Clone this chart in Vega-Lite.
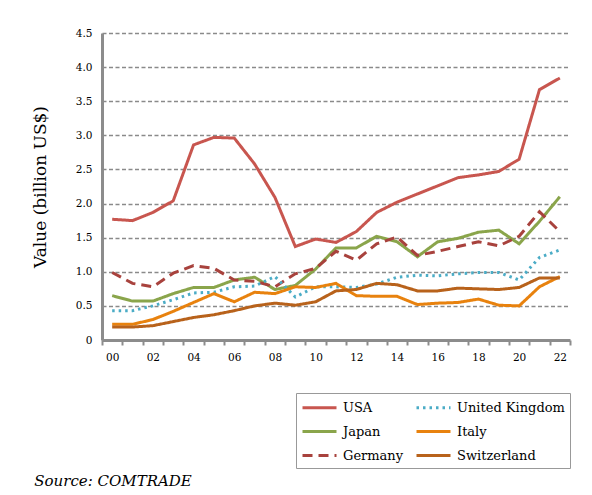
{
  "$schema": "https://vega.github.io/schema/vega-lite/v6.json",
  "width": 468,
  "height": 307,
  "autosize": {"type": "none"},
  "padding": {"left": 102, "top": 33, "right": 22, "bottom": 155},
  "background": "white",
  "title": {
    "text": "Source: COMTRADE",
    "orient": "bottom",
    "anchor": "start",
    "font": "DejaVu Serif",
    "fontStyle": "italic",
    "fontWeight": "normal",
    "fontSize": 15,
    "color": "black",
    "dx": 3,
    "offset": 5
  },
  "config": {
    "view": {"stroke": null},
    "font": "DejaVu Serif"
  },
  "datasets": {
    "trade": [
      {"year": "00", "country": "USA", "value": 1.77},
      {"year": "01", "country": "USA", "value": 1.75},
      {"year": "02", "country": "USA", "value": 1.87},
      {"year": "03", "country": "USA", "value": 2.04},
      {"year": "04", "country": "USA", "value": 2.86},
      {"year": "05", "country": "USA", "value": 2.97},
      {"year": "06", "country": "USA", "value": 2.96},
      {"year": "07", "country": "USA", "value": 2.58},
      {"year": "08", "country": "USA", "value": 2.09},
      {"year": "09", "country": "USA", "value": 1.37},
      {"year": "10", "country": "USA", "value": 1.48},
      {"year": "11", "country": "USA", "value": 1.43},
      {"year": "12", "country": "USA", "value": 1.59},
      {"year": "13", "country": "USA", "value": 1.87},
      {"year": "14", "country": "USA", "value": 2.02},
      {"year": "15", "country": "USA", "value": 2.14},
      {"year": "16", "country": "USA", "value": 2.26},
      {"year": "17", "country": "USA", "value": 2.38},
      {"year": "18", "country": "USA", "value": 2.42},
      {"year": "19", "country": "USA", "value": 2.47},
      {"year": "20", "country": "USA", "value": 2.65},
      {"year": "21", "country": "USA", "value": 3.67},
      {"year": "22", "country": "USA", "value": 3.84},

      {"year": "00", "country": "Japan", "value": 0.65},
      {"year": "01", "country": "Japan", "value": 0.57},
      {"year": "02", "country": "Japan", "value": 0.57},
      {"year": "03", "country": "Japan", "value": 0.68},
      {"year": "04", "country": "Japan", "value": 0.77},
      {"year": "05", "country": "Japan", "value": 0.77},
      {"year": "06", "country": "Japan", "value": 0.88},
      {"year": "07", "country": "Japan", "value": 0.92},
      {"year": "08", "country": "Japan", "value": 0.74},
      {"year": "09", "country": "Japan", "value": 0.80},
      {"year": "10", "country": "Japan", "value": 1.04},
      {"year": "11", "country": "Japan", "value": 1.35},
      {"year": "12", "country": "Japan", "value": 1.35},
      {"year": "13", "country": "Japan", "value": 1.52},
      {"year": "14", "country": "Japan", "value": 1.44},
      {"year": "15", "country": "Japan", "value": 1.22},
      {"year": "16", "country": "Japan", "value": 1.44},
      {"year": "17", "country": "Japan", "value": 1.49},
      {"year": "18", "country": "Japan", "value": 1.58},
      {"year": "19", "country": "Japan", "value": 1.61},
      {"year": "20", "country": "Japan", "value": 1.41},
      {"year": "21", "country": "Japan", "value": 1.74},
      {"year": "22", "country": "Japan", "value": 2.10},

      {"year": "00", "country": "Germany", "value": 0.99},
      {"year": "01", "country": "Germany", "value": 0.83},
      {"year": "02", "country": "Germany", "value": 0.78},
      {"year": "03", "country": "Germany", "value": 0.98},
      {"year": "04", "country": "Germany", "value": 1.09},
      {"year": "05", "country": "Germany", "value": 1.05},
      {"year": "06", "country": "Germany", "value": 0.88},
      {"year": "07", "country": "Germany", "value": 0.86},
      {"year": "08", "country": "Germany", "value": 0.78},
      {"year": "09", "country": "Germany", "value": 0.97},
      {"year": "10", "country": "Germany", "value": 1.05},
      {"year": "11", "country": "Germany", "value": 1.30},
      {"year": "12", "country": "Germany", "value": 1.17},
      {"year": "13", "country": "Germany", "value": 1.41},
      {"year": "14", "country": "Germany", "value": 1.51},
      {"year": "15", "country": "Germany", "value": 1.24},
      {"year": "16", "country": "Germany", "value": 1.30},
      {"year": "17", "country": "Germany", "value": 1.37},
      {"year": "18", "country": "Germany", "value": 1.44},
      {"year": "19", "country": "Germany", "value": 1.38},
      {"year": "20", "country": "Germany", "value": 1.52},
      {"year": "21", "country": "Germany", "value": 1.88},
      {"year": "22", "country": "Germany", "value": 1.59},

      {"year": "00", "country": "United Kingdom", "value": 0.43},
      {"year": "01", "country": "United Kingdom", "value": 0.43},
      {"year": "02", "country": "United Kingdom", "value": 0.50},
      {"year": "03", "country": "United Kingdom", "value": 0.59},
      {"year": "04", "country": "United Kingdom", "value": 0.69},
      {"year": "05", "country": "United Kingdom", "value": 0.70},
      {"year": "06", "country": "United Kingdom", "value": 0.78},
      {"year": "07", "country": "United Kingdom", "value": 0.79},
      {"year": "08", "country": "United Kingdom", "value": 0.93},
      {"year": "09", "country": "United Kingdom", "value": 0.63},
      {"year": "10", "country": "United Kingdom", "value": 0.78},
      {"year": "11", "country": "United Kingdom", "value": 0.78},
      {"year": "12", "country": "United Kingdom", "value": 0.77},
      {"year": "13", "country": "United Kingdom", "value": 0.82},
      {"year": "14", "country": "United Kingdom", "value": 0.92},
      {"year": "15", "country": "United Kingdom", "value": 0.95},
      {"year": "16", "country": "United Kingdom", "value": 0.94},
      {"year": "17", "country": "United Kingdom", "value": 0.97},
      {"year": "18", "country": "United Kingdom", "value": 0.99},
      {"year": "19", "country": "United Kingdom", "value": 0.99},
      {"year": "20", "country": "United Kingdom", "value": 0.88},
      {"year": "21", "country": "United Kingdom", "value": 1.21},
      {"year": "22", "country": "United Kingdom", "value": 1.32},

      {"year": "00", "country": "Italy", "value": 0.23},
      {"year": "01", "country": "Italy", "value": 0.23},
      {"year": "02", "country": "Italy", "value": 0.30},
      {"year": "03", "country": "Italy", "value": 0.42},
      {"year": "04", "country": "Italy", "value": 0.55},
      {"year": "05", "country": "Italy", "value": 0.68},
      {"year": "06", "country": "Italy", "value": 0.56},
      {"year": "07", "country": "Italy", "value": 0.70},
      {"year": "08", "country": "Italy", "value": 0.68},
      {"year": "09", "country": "Italy", "value": 0.78},
      {"year": "10", "country": "Italy", "value": 0.77},
      {"year": "11", "country": "Italy", "value": 0.83},
      {"year": "12", "country": "Italy", "value": 0.65},
      {"year": "13", "country": "Italy", "value": 0.64},
      {"year": "14", "country": "Italy", "value": 0.64},
      {"year": "15", "country": "Italy", "value": 0.52},
      {"year": "16", "country": "Italy", "value": 0.54},
      {"year": "17", "country": "Italy", "value": 0.55},
      {"year": "18", "country": "Italy", "value": 0.60},
      {"year": "19", "country": "Italy", "value": 0.51},
      {"year": "20", "country": "Italy", "value": 0.50},
      {"year": "21", "country": "Italy", "value": 0.78},
      {"year": "22", "country": "Italy", "value": 0.93},

      {"year": "00", "country": "Switzerland", "value": 0.19},
      {"year": "01", "country": "Switzerland", "value": 0.19},
      {"year": "02", "country": "Switzerland", "value": 0.21},
      {"year": "03", "country": "Switzerland", "value": 0.27},
      {"year": "04", "country": "Switzerland", "value": 0.33},
      {"year": "05", "country": "Switzerland", "value": 0.37},
      {"year": "06", "country": "Switzerland", "value": 0.43},
      {"year": "07", "country": "Switzerland", "value": 0.50},
      {"year": "08", "country": "Switzerland", "value": 0.54},
      {"year": "09", "country": "Switzerland", "value": 0.51},
      {"year": "10", "country": "Switzerland", "value": 0.56},
      {"year": "11", "country": "Switzerland", "value": 0.72},
      {"year": "12", "country": "Switzerland", "value": 0.74},
      {"year": "13", "country": "Switzerland", "value": 0.83},
      {"year": "14", "country": "Switzerland", "value": 0.81},
      {"year": "15", "country": "Switzerland", "value": 0.72},
      {"year": "16", "country": "Switzerland", "value": 0.72},
      {"year": "17", "country": "Switzerland", "value": 0.76},
      {"year": "18", "country": "Switzerland", "value": 0.75},
      {"year": "19", "country": "Switzerland", "value": 0.74},
      {"year": "20", "country": "Switzerland", "value": 0.77},
      {"year": "21", "country": "Switzerland", "value": 0.91},
      {"year": "22", "country": "Switzerland", "value": 0.91}
    ]
  },
  "data": {"name": "trade"},
  "mark": {"type": "line", "strokeWidth": 3, "strokeJoin": "miter"},
  "encoding": {
    "x": {
      "field": "year",
      "type": "ordinal",
      "scale": {"type": "band", "paddingInner": 0, "paddingOuter": 0},
      "axis": {
        "title": null,
        "labelAngle": 0,
        "tickBand": "extent",
        "labelExpr": "parseInt(datum.value) % 2 == 0 ? datum.value : ''",
        "labelFont": "DejaVu Serif",
        "labelFontSize": 10.5,
        "labelColor": "black",
        "labelPadding": 7,
        "domainColor": "#8c8c8c",
        "domainWidth": 3,
        "tickColor": "#8c8c8c",
        "tickWidth": 2,
        "tickSize": 5,
        "grid": false
      }
    },
    "y": {
      "field": "value",
      "type": "quantitative",
      "scale": {"domain": [0, 4.5], "nice": false},
      "axis": {
        "title": "Value (billion US$)",
        "titleFont": "DejaVu Serif",
        "titleFontSize": 17,
        "titleFontWeight": "normal",
        "titleColor": "black",
        "titlePadding": 26,
        "values": [0, 0.5, 1, 1.5, 2, 2.5, 3, 3.5, 4, 4.5],
        "labelExpr": "datum.value == 0 ? '0' : format(datum.value, '.1f')",
        "labelFont": "DejaVu Serif",
        "labelFontSize": 10.5,
        "labelColor": "black",
        "labelPadding": 10,
        "ticks": false,
        "domainColor": "#8c8c8c",
        "domainWidth": 3,
        "grid": true,
        "gridColor": "#8a8a8a",
        "gridWidth": 1.3,
        "gridDash": [4, 2.5]
      }
    },
    "color": {
      "field": "country",
      "type": "nominal",
      "scale": {
        "domain": ["USA", "Japan", "Germany", "United Kingdom", "Italy", "Switzerland"],
        "range": ["#C8564F", "#8AA54B", "#A8423D", "#4BACC6", "#E8820E", "#B8621B"]
      },
      "legend": {
        "title": null,
        "orient": "none",
        "legendX": 194,
        "legendY": 360,
        "columns": 2,
        "columnPadding": 6,
        "rowPadding": 7,
        "padding": 5,
        "strokeColor": "#999999",
        "symbolType": "M-1,0H3.25",
        "symbolSize": 256,
        "symbolStrokeWidth": 3,
        "labelFont": "DejaVu Serif",
        "labelFontSize": 13,
        "labelColor": "black",
        "labelOffset": 23
      }
    },
    "strokeDash": {
      "field": "country",
      "type": "nominal",
      "scale": {
        "domain": ["USA", "Japan", "Germany", "United Kingdom", "Italy", "Switzerland"],
        "range": [[1, 0], [1, 0], [10, 6], [2.5, 4], [1, 0], [1, 0]]
      },
      "legend": null
    }
  }
}
